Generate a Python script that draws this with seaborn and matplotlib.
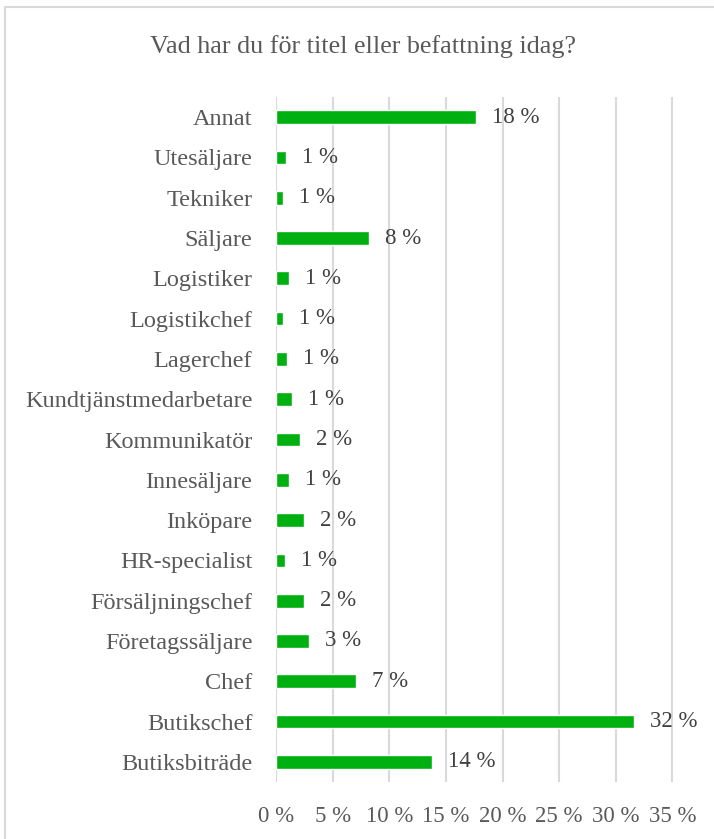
import matplotlib
matplotlib.use("Agg")
import matplotlib.pyplot as plt
import seaborn as sns
import pandas as pd
from matplotlib.ticker import FuncFormatter
from matplotlib.lines import Line2D

categories = ["Annat", "Utesäljare", "Tekniker", "Säljare", "Logistiker", "Logistikchef",
              "Lagerchef", "Kundtjänstmedarbetare", "Kommunikatör", "Innesäljare", "Inköpare",
              "HR-specialist", "Försäljningschef", "Företagssäljare", "Chef", "Butikschef",
              "Butiksbiträde"]
values = [17.7, 0.85, 0.62, 8.2, 1.15, 0.62, 0.97, 1.45, 2.08, 1.18, 2.44, 0.77, 2.44,
          2.94, 7.1, 31.6, 13.8]
xticks = [0, 5, 10, 15, 20, 25, 30, 35]
title = "Vad har du för titel eller befattning idag?"

sns.set_theme(style="white")
plt.rcParams['font.family'] = ['Liberation Serif', 'DejaVu Serif']

df = pd.DataFrame({"cat": categories, "val": values})

fig = plt.figure(figsize=(7.14, 8.39), dpi=100)
ax = fig.add_axes([276/714, 57/839, 397/714, 685/839])
sns.barplot(data=df, x="val", y="cat", orient="h", color="#00B010", saturation=1,
            width=0.34, ax=ax, zorder=3)

ax.set_xlim(0, 35.05)
ax.set_xticks(xticks)
ax.xaxis.set_major_formatter(FuncFormatter(lambda v, p: f"{v:.0f} %"))
ax.grid(axis="x", color="#D9D9D9", linewidth=1.5, zorder=0)
ax.grid(axis="y", visible=False)
for s in ax.spines.values():
    s.set_visible(False)
ax.set_xlabel("")
ax.set_ylabel("")
ax.tick_params(axis="x", length=0, pad=17, labelsize=16.5, labelcolor="#595959")
ax.tick_params(axis="y", length=0, pad=17, labelsize=17.5, labelcolor="#595959")

ax.bar_label(ax.containers[0], labels=[f"{v:.0f} %" for v in values], padding=11.5,
             fontsize=16.5, color="#404040")

fig.text(0.5 + 6/714, 1 - 47/839, title, ha="center", va="center", fontsize=18.8,
         color="#595959")

fig.add_artist(Line2D([5/714, 5/714], [0, 1 - 7/839], transform=fig.transFigure,
                      color="#D9D9D9", linewidth=1.5))
fig.add_artist(Line2D([5/714, 1], [1 - 7/839, 1 - 7/839], transform=fig.transFigure,
                      color="#D9D9D9", linewidth=1.5))

fig.savefig("out.png", dpi=100, facecolor="white")
